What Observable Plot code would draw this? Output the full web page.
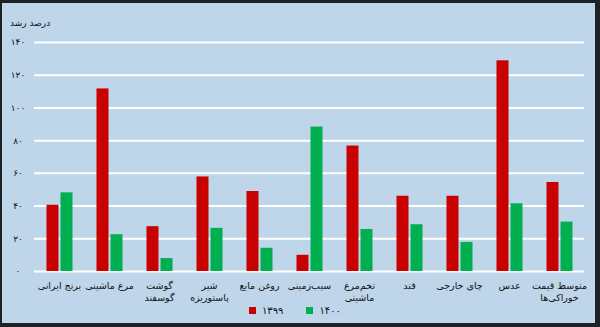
<!DOCTYPE html>
<html>
<head>
<meta charset="utf-8">
<script src="https://cdn.jsdelivr.net/npm/d3@7"></script>
<script src="https://cdn.jsdelivr.net/npm/@observablehq/plot@0.6"></script>
<style>
  html, body { margin: 0; padding: 0; }
  body { width: 600px; height: 327px; background: #1d2226; overflow: hidden; font-family: "DejaVu Sans", sans-serif; }
  #frame { position: absolute; left: 2px; top: 3px; width: 593px; height: 320px; background: #bed5ea; }
  #chart svg { display: block; }
  #legend { position: absolute; left: 247px; top: 302px; display: flex; align-items: center; font-size: 10px; color: #111; }
  .sw { display: inline-block; width: 7px; height: 7px; margin-right: 6px; }
  .item { display: flex; align-items: center; margin-right: 23px; }
</style>
</head>
<body>
<div id="frame">
  <div id="chart"></div>
  <div id="legend"></div>
</div>
<script>
const categories = [
  "برنج ایرانی", "مرغ ماشینی", "گوشت\nگوسفند", "شیر\nپاستوریزه", "روغن مایع",
  "سیب‌زمینی", "تخم‌مرغ\nماشینی", "قند", "چای خارجی", "عدس", "متوسط قیمت\nخوراکی‌ها"
];
const series = ["۱۳۹۹", "۱۴۰۰"];
const values1399 = [40.5, 111.6, 27.4, 57.8, 48.9, 9.9, 76.7, 46, 46, 128.8, 54.4];
const values1400 = [48.1, 22.5, 7.9, 26.4, 14.2, 88.3, 25.7, 28.6, 17.8, 41.4, 30.2];
const yTicks = [0, 20, 40, 60, 80, 100, 120, 140];
const colors = ["#c80000", "#00b050"];
const yTitle = "درصد رشد";

const faDigits = n => String(n).replace(/\d/g, d => "۰۱۲۳۴۵۶۷۸۹"[d]);

const data = [];
categories.forEach((c, i) => {
  data.push({category: c, series: series[0], value: values1399[i]});
  data.push({category: c, series: series[1], value: values1400[i]});
});

const plot = Plot.plot({
  width: 593,
  height: 300,
  marginLeft: 30.5,
  marginRight: 9,
  marginTop: 39,
  marginBottom: 32,
  style: {background: "transparent", fontFamily: "DejaVu Sans, sans-serif", fontSize: "9px", color: "#111"},
  fx: {domain: categories, padding: 0, label: null, axis: null},
  x: {domain: series, paddingInner: 0.16, paddingOuter: 0.84, axis: null},
  y: {domain: [0, 140], label: null},
  color: {domain: series, range: colors},
  marks: [
    Plot.gridY(yTicks, {stroke: "#ffffff", strokeOpacity: 1, strokeWidth: 2}),
    Plot.barY(data, {fx: "category", x: "series", y: "value", fill: "series"}),
    Plot.axisY(yTicks, {tickSize: 0, tickPadding: 16.5, textAnchor: "middle", tickFormat: faDigits, label: null, fontSize: 9}),
    Plot.axisFx({anchor: "bottom", tickSize: 0, tickPadding: 9, label: null, fontSize: 9.5, lineHeight: 1.25}),
    Plot.text([{c: categories[0]}], {fx: "c", text: () => yTitle, frameAnchor: "top-left", dx: -24.5, dy: -22.5, textAnchor: "start", fontSize: 9})
  ]
});
document.getElementById("chart").appendChild(plot);

const legend = document.getElementById("legend");
series.forEach((s, i) => {
  const item = document.createElement("div");
  item.className = "item";
  const sw = document.createElement("span");
  sw.className = "sw";
  sw.style.background = colors[i];
  item.appendChild(sw);
  const t = document.createElement("span");
  t.textContent = s;
  item.appendChild(t);
  legend.appendChild(item);
});
</script>
</body>
</html>
